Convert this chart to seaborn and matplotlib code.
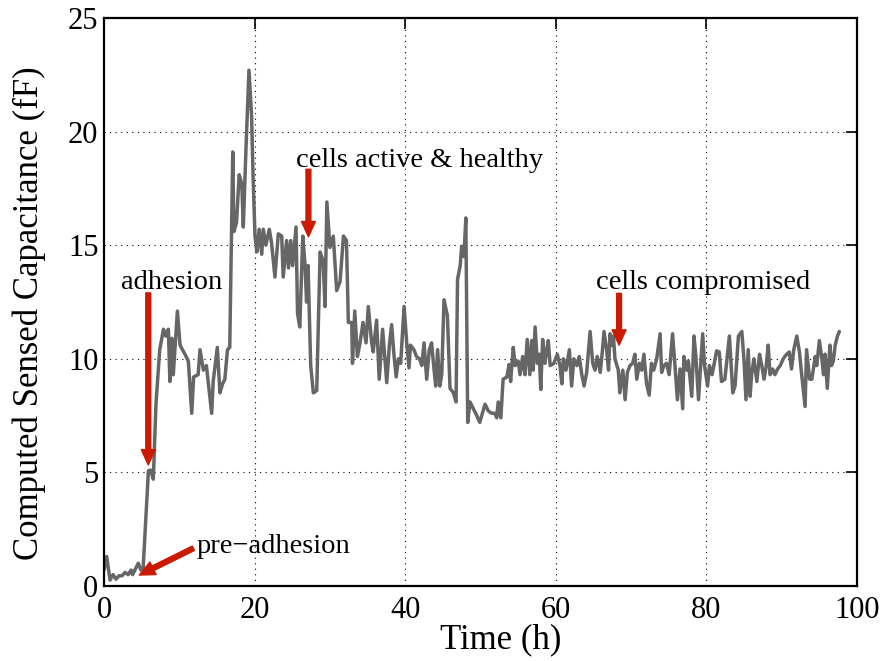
import numpy as np
import pandas as pd
import matplotlib
matplotlib.use('Agg')
import matplotlib.pyplot as plt
import seaborn as sns

# Time (h) and computed capacitance (fF)
time_h = [
    0.0, 0.36, 0.8, 1.2, 1.6, 2.0, 2.4, 2.8, 3.2, 3.6, 3.8, 4.55, 4.9, 5.2,
    5.9, 6.2, 6.55, 6.9, 7.4, 7.9, 8.2, 8.55, 8.75, 9.0, 9.2, 9.75, 10.1,
    10.75, 11.2, 11.65, 11.9, 12.5, 12.75, 13.2, 13.6, 14.3, 14.5, 15.05,
    15.4, 15.75, 16.05, 16.4, 16.7, 17.1, 17.25, 17.6, 17.95, 18.3, 18.5,
    18.85, 19.25, 19.6, 19.8, 20.05, 20.3, 20.6, 20.95, 21.15, 21.5, 21.95,
    22.25, 22.7, 23.15, 23.6, 23.8, 24.25, 24.5, 24.8, 25.05, 25.5, 25.7,
    26.0, 26.4, 26.7, 26.9, 27.1, 27.45, 27.8, 28.25, 28.7, 29.1, 29.35,
    29.6, 30.0, 30.45, 30.9, 31.35, 31.8, 32.2, 32.45, 32.9, 33.0, 33.3,
    33.65, 34.0, 34.4, 34.8, 35.1, 35.55, 35.75, 36.2, 36.55, 37.0, 37.55,
    37.9, 38.2, 38.5, 38.8, 39.1, 39.4, 39.85, 40.2, 40.5, 40.7, 41.15,
    41.5, 41.9, 42.2, 42.5, 42.85, 43.2, 43.5, 43.75, 44.05, 44.3, 44.6,
    44.85, 45.15, 45.4, 45.6, 45.95, 46.4, 46.75, 46.95, 47.3, 47.5, 47.8,
    48.05, 48.3, 48.6, 49.05, 49.5, 49.9, 50.6, 51.05, 51.5, 51.9, 52.15,
    52.35, 52.7, 53.0, 53.5, 53.8, 54.0, 54.35, 54.6, 55.0, 55.25, 55.6,
    55.9, 56.2, 56.55, 56.8, 57.0, 57.25, 57.55, 57.8, 58.0, 58.25, 58.55,
    58.8, 59.0, 59.25, 59.75, 60.2, 60.55, 60.8, 61.0, 61.35, 61.8, 62.1,
    62.4, 62.8, 63.1, 63.45, 63.75, 64.1, 64.55, 64.9, 65.2, 65.5, 65.9,
    66.2, 66.4, 66.75, 67.0, 67.2, 67.4, 67.65, 67.85, 68.3, 68.5, 68.9,
    69.2, 69.5, 69.85, 70.2, 70.5, 70.75, 71.1, 71.4, 71.7, 72.05, 72.4,
    72.7, 73.0, 73.4, 73.85, 74.05, 74.35, 74.7, 75.05, 75.5, 75.8, 76.15,
    76.5, 76.85, 77.0, 77.4, 77.6, 78.05, 78.35, 78.6, 78.95, 79.5, 79.75,
    80.15, 80.4, 80.75, 81.35, 81.7, 82.0, 82.45, 83.05, 83.5, 83.8, 84.25,
    84.7, 85.0, 85.25, 85.55, 85.8, 86.0, 86.3, 86.7, 87.05, 87.35, 87.65,
    87.95, 88.2, 88.45, 88.8, 89.1, 89.45, 89.8, 90.2, 90.65, 91.0, 91.3,
    91.6, 92.0, 92.35, 92.65, 93.1, 93.3, 93.7, 94.0, 94.45, 94.65, 95.0,
    95.3, 95.55, 95.75, 96.05, 96.4, 96.6, 96.85, 97.1, 97.4, 97.65,
]
capacitance = [
    0.7, 1.3, 0.26, 0.5, 0.3, 0.45, 0.45, 0.6, 0.5, 0.7, 0.5, 1.0, 0.7, 0.8,
    5.07, 5.1, 4.7, 8.0, 10.4, 11.3, 11.0, 11.3, 9.0, 10.9, 9.3, 12.1, 10.6,
    10.2, 9.9, 7.6, 9.2, 9.3, 10.4, 9.5, 9.7, 7.6, 9.0, 10.5,
    8.5, 8.9, 9.1, 10.4, 10.5, 19.1, 15.6, 16.0, 18.1, 17.7, 15.8,
    19.2, 22.7, 20.7, 18.0, 15.4, 14.7, 15.7, 14.6, 15.7, 15.0, 15.7,
    15.1, 13.6, 15.5, 15.4, 13.6, 15.2, 14.0, 15.2, 14.1, 15.8, 12.0,
    11.4, 15.4, 14.1, 12.5, 14.1, 9.7, 8.5, 8.6, 14.7, 14.3, 12.3,
    16.9, 14.9, 15.4, 13.0, 13.4, 15.4, 15.2, 11.6, 11.6, 9.8, 12.1,
    10.1, 10.7, 11.6, 10.7, 12.3, 10.7, 10.3, 11.7, 9.1, 11.3, 8.95,
    10.6, 11.5, 10.2, 9.2, 10.0, 9.8, 12.3, 10.7, 9.6, 10.6, 10.4,
    10.1, 10.0, 9.7, 10.7, 9.1, 10.4, 10.7, 9.8, 8.8, 10.4, 8.8,
    9.3, 12.6, 12.2, 11.9, 8.7, 8.5, 8.1, 13.5, 14.1, 14.95, 14.5,
    16.2, 7.2, 8.1, 7.8, 7.5, 7.2, 8.0, 7.7, 7.6, 7.6, 7.4,
    8.1, 7.4, 9.1, 9.2, 9.75, 9.0, 10.5, 9.7, 9.9, 9.3, 10.1,
    9.3, 10.85, 9.3, 10.8, 9.5, 11.4, 9.8, 10.2, 8.65, 10.85, 9.8,
    10.4, 10.8, 9.7, 9.8, 10.2, 9.7, 8.9, 10.0, 9.5, 10.4, 8.8,
    10.0, 9.7, 10.1, 9.3, 8.8, 9.4, 11.2, 9.8, 9.5, 10.1, 9.4,
    10.4, 11.2, 10.4, 9.5, 11.1, 10.6, 11.0, 10.0, 9.5, 8.5, 9.5,
    8.2, 9.4, 9.7, 9.8, 10.2, 9.1, 9.8, 9.5, 10.2, 8.9, 8.4,
    9.8, 9.5, 10.0, 11.1, 9.4, 9.7, 9.8, 9.3, 11.1, 9.8, 8.2,
    9.55, 7.8, 10.1, 9.5, 9.9, 8.35, 11.0, 10.1, 8.2, 11.1, 9.7,
    8.8, 9.7, 9.3, 10.35, 10.3, 9.0, 9.1, 11.0, 8.5, 8.8, 11.0,
    11.2, 9.9, 8.2, 10.4, 8.35, 9.3, 10.0, 9.0, 10.2, 9.7, 9.1,
    9.7, 10.6, 9.3, 9.55, 9.3, 9.55, 9.7, 10.0, 10.2, 10.3, 9.55,
    10.4, 11.0, 10.3, 9.3, 7.9, 10.4, 9.1, 9.1, 10.1, 9.7, 10.8,
    10.1, 9.3, 10.2, 8.7, 10.6, 9.7, 9.9, 10.6, 11.0, 11.2,
]

x_ticks = [0, 20, 40, 60, 80, 100]
y_ticks = [0, 5, 10, 15, 20, 25]

df = pd.DataFrame({'Time': time_h, 'Cap': capacitance})

sns.set_style('white')
plt.rcParams['font.family'] = ['Liberation Serif', 'DejaVu Serif']
plt.rcParams['text.color'] = 'black'
plt.rcParams['axes.labelcolor'] = 'black'

fig = plt.figure(figsize=(8.85, 6.61), dpi=100)
ax = fig.add_axes([0.1175, 0.1135, 0.8509, 0.8593])

sns.lineplot(data=df, x='Time', y='Cap', ax=ax, color='#666666',
             linewidth=2.5, estimator=None, sort=False)

ax.set_xlim(0, 100)
ax.set_ylim(0, 25)
ax.set_xticks(x_ticks)
ax.set_yticks(y_ticks)
ax.tick_params(direction='in', top=True, right=True, length=8, width=1.2,
               labelsize=22, colors='black')
ax.tick_params(axis='x', pad=7)
ax.tick_params(axis='y', pad=4)
for s in ax.spines.values():
    s.set_color('black')
    s.set_linewidth(1.6)
ax.grid(True, color='black', linestyle=(0, (1, 4)), linewidth=0.8)

ax.set_xlabel('Time (h)', fontsize=25, color='black')
ax.set_ylabel('Computed Sensed Capacitance (fF)', fontsize=25, color='black')
ax.xaxis.set_label_coords(0.527, -0.066)
ax.yaxis.set_label_coords(-0.077, 0.48)

# annotations
red = '#CC1A00'
arrow = dict(facecolor=red, edgecolor=red, width=3.5, headwidth=10,
             headlength=11, shrink=0)
fs = 20.5
ax.annotate('', xy=(5.88, 5.33), xytext=(5.88, 12.9), arrowprops=arrow)
ax.text(9.0, 13.06, 'adhesion', fontsize=fs, ha='center', va='baseline',
        color='black')

ax.annotate('', xy=(4.69, 0.48), xytext=(11.86, 1.66), arrowprops=arrow)
ax.text(12.3, 1.44, 'pre\u2212adhesion', fontsize=fs, ha='left',
        va='baseline', color='black')

ax.annotate('', xy=(27.15, 15.37), xytext=(27.15, 18.34), arrowprops=arrow)
ax.text(41.85, 18.44, 'cells active & healthy', fontsize=fs, ha='center',
        va='baseline', color='black')

ax.annotate('', xy=(68.4, 10.6), xytext=(68.4, 12.88), arrowprops=arrow)
ax.text(79.6, 13.06, 'cells compromised', fontsize=fs, ha='center',
        va='baseline', color='black')

fig.savefig('out.png', dpi=100)
